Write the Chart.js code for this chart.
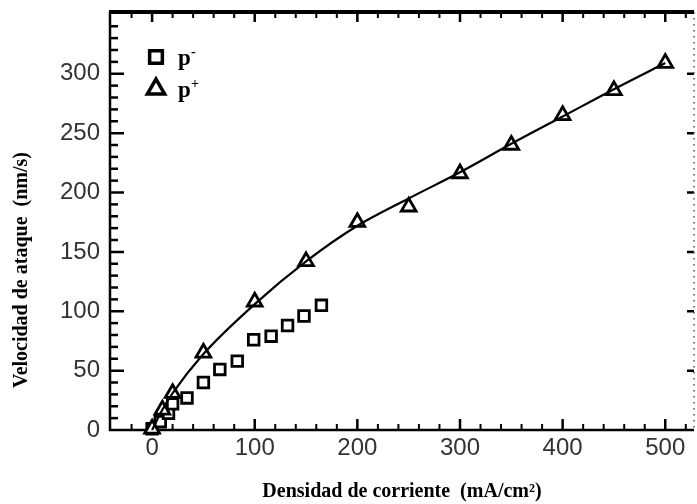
<!DOCTYPE html>
<html>
<head>
<meta charset="utf-8">
<script src="https://cdn.jsdelivr.net/npm/chart.js@4.4.1/dist/chart.umd.min.js"></script>
<style>
  body { margin: 0; background: #fff; }
  #wrap { width: 697px; height: 504px; }
</style>
</head>
<body>
<div id="wrap"><canvas id="etchChart"></canvas></div>
<script>
// p- samples (squares)
const pMinusX = [0, 8, 16, 20, 34, 50, 66, 83, 99, 116, 132, 148, 165];
const pMinusY = [1, 7, 14, 22, 27, 40, 51, 58, 76, 79, 88, 96, 105];

// p+ samples (triangles)
const pPlusX = [0, 10, 20, 50, 100, 150, 200, 250, 300, 350, 400, 450, 500];
const pPlusY = [1, 17, 31, 65, 108, 142, 175, 188, 216, 240, 265, 286, 309];

// curve drawn through the p+ points
const fitX = [0, 10, 20, 50, 100, 150, 200, 250, 300, 350, 400, 450, 500];
const fitY = [0, 17, 31, 64, 106, 142, 172, 195, 217, 241, 264, 287, 309];

const xTickValues = [0, 100, 200, 300, 400, 500];
const yTickValues = [0, 50, 100, 150, 200, 250, 300];

const toPoints = (xs, ys) => xs.map((x, i) => ({ x: x, y: ys[i] }));

// box with ticks pointing inwards, like the original figure
const framePlugin = {
    id: 'frame',
    beforeDatasetsDraw(chart) {
        const { ctx, chartArea: a, scales: { x, y } } = chart;
        ctx.save();
        ctx.strokeStyle = '#000';

        // top and bottom ticks, minor every 20
        for (let v = -40; v <= 520; v += 20) {
            const px = x.getPixelForValue(v);
            if (px < a.left + 3 || px > a.right - 3) continue;
            const major = v % 100 === 0;
            ctx.lineWidth = major ? 2.5 : 2;
            ctx.beginPath();
            ctx.moveTo(px, a.bottom);
            ctx.lineTo(px, a.bottom - (major ? 11 : 6));
            ctx.moveTo(px, a.top);
            ctx.lineTo(px, a.top + (major ? 10 : 6));
            ctx.stroke();
        }

        // left ticks every 10, right ticks every 50
        for (let v = 10; v <= 350; v += 10) {
            const py = y.getPixelForValue(v);
            if (py < a.top + 3) continue;
            const major = v % 50 === 0;
            ctx.lineWidth = 2.5;
            ctx.beginPath();
            ctx.moveTo(a.left, py);
            ctx.lineTo(a.left + (major ? 14 : 8), py);
            if (major) {
                ctx.moveTo(a.right, py);
                ctx.lineTo(a.right - 7, py);
            }
            ctx.stroke();
        }

        // right edge is a faint dotted line in the scan
        ctx.lineWidth = 1.5;
        ctx.strokeStyle = '#555';
        ctx.setLineDash([1.5, 4.5]);
        ctx.beginPath();
        ctx.moveTo(a.right, a.top);
        ctx.lineTo(a.right, a.bottom);
        ctx.stroke();
        ctx.setLineDash([]);

        ctx.strokeStyle = '#000';
        ctx.lineWidth = 4;
        ctx.beginPath();
        ctx.moveTo(a.left - 1, a.top);
        ctx.lineTo(a.right, a.top);
        ctx.stroke();
        ctx.lineWidth = 2.5;
        ctx.beginPath();
        ctx.moveTo(a.left, a.top);
        ctx.lineTo(a.left, a.bottom);
        ctx.lineTo(a.right, a.bottom);
        ctx.stroke();

        // y axis title, sits a bit low in the original
        ctx.save();
        ctx.translate(22, 270);
        ctx.rotate(-Math.PI / 2);
        ctx.fillStyle = '#000';
        ctx.font = 'bold 20px "Liberation Serif"';
        ctx.textAlign = 'center';
        ctx.textBaseline = 'middle';
        ctx.fillText('Velocidad de ataque  (nm/s)', 0, 0);
        ctx.restore();

        ctx.restore();
    }
};

// legend sits inside the plot, top left
const legendPlugin = {
    id: 'innerLegend',
    afterDatasetsDraw(chart) {
        const ctx = chart.ctx;
        const rows = [
            { style: 'rect', radius: 9, y: 57, sup: '-' },
            { style: 'triangle', radius: 10, y: 89, sup: '+' }
        ];
        ctx.save();
        rows.forEach(function (row) {
            ctx.strokeStyle = '#000';
            ctx.fillStyle = '#fff';
            ctx.lineWidth = 3.5;
            Chart.helpers.drawPoint(ctx, { pointStyle: row.style, radius: row.radius, borderWidth: 3.5 }, 156, row.y);
            ctx.fillStyle = '#000';
            ctx.textBaseline = 'alphabetic';
            ctx.font = 'bold 23px "Liberation Serif"';
            ctx.fillText('p', 178, row.y + 8);
            ctx.font = 'bold 14px "Liberation Serif"';
            ctx.fillText(row.sup, 191, row.y - 1);
        });
        ctx.restore();
    }
};

function noEdgePadding(scale) {
    scale.paddingTop = 0;
    scale.paddingBottom = 0;
    scale.paddingLeft = 0;
    scale.paddingRight = 0;
}

new Chart(document.getElementById('etchChart'), {
    type: 'scatter',
    data: {
        datasets: [
            {
                label: 'fit',
                data: toPoints(fitX, fitY),
                showLine: true,
                borderColor: '#000',
                borderWidth: 2.2,
                cubicInterpolationMode: 'monotone',
                pointRadius: 0,
                clip: false
            },
            {
                label: 'p+',
                data: toPoints(pPlusX, pPlusY),
                showLine: false,
                pointStyle: 'triangle',
                pointRadius: 8.5,
                pointBorderWidth: 2.8,
                pointBackgroundColor: '#fff',
                pointBorderColor: '#000',
                clip: false
            },
            {
                label: 'p-',
                data: toPoints(pMinusX, pMinusY),
                showLine: false,
                pointStyle: 'rect',
                pointRadius: 7.5,
                pointBorderWidth: 2.8,
                pointBackgroundColor: '#fff',
                pointBorderColor: '#000',
                clip: false
            }
        ]
    },
    options: {
        responsive: true,
        maintainAspectRatio: false,
        animation: false,
        layout: { autoPadding: false, padding: { top: 12, right: 3, left: 0, bottom: 0 } },
        plugins: {
            legend: { display: false },
            tooltip: { enabled: false }
        },
        scales: {
            x: {
                type: 'linear',
                min: -41,
                max: 528,
                grid: { display: false, drawTicks: false },
                border: { display: false },
                afterBuildTicks: (scale) => { scale.ticks = xTickValues.map(v => ({ value: v })); },
                afterFit: (scale) => { scale.height = 74; noEdgePadding(scale); },
                ticks: {
                    color: '#333',
                    padding: 4,
                    font: { family: '"Liberation Sans", Arial', size: 24 }
                },
                title: {
                    display: true,
                    text: 'Densidad de corriente  (mA/cm²)',
                    color: '#000',
                    padding: { top: 0, bottom: 0 },
                    font: { family: '"Liberation Serif"', size: 20, weight: 'bold' }
                }
            },
            y: {
                type: 'linear',
                min: 0,
                max: 352,
                grid: { display: false, drawTicks: false },
                border: { display: false },
                afterBuildTicks: (scale) => { scale.ticks = yTickValues.map(v => ({ value: v })); },
                afterFit: (scale) => { scale.width = 110; noEdgePadding(scale); },
                ticks: {
                    color: '#333',
                    padding: 10,
                    font: { family: '"Liberation Sans", Arial', size: 24 }
                },
                title: { display: false }
            }
        }
    },
    plugins: [framePlugin, legendPlugin]
});
</script>
</body>
</html>
